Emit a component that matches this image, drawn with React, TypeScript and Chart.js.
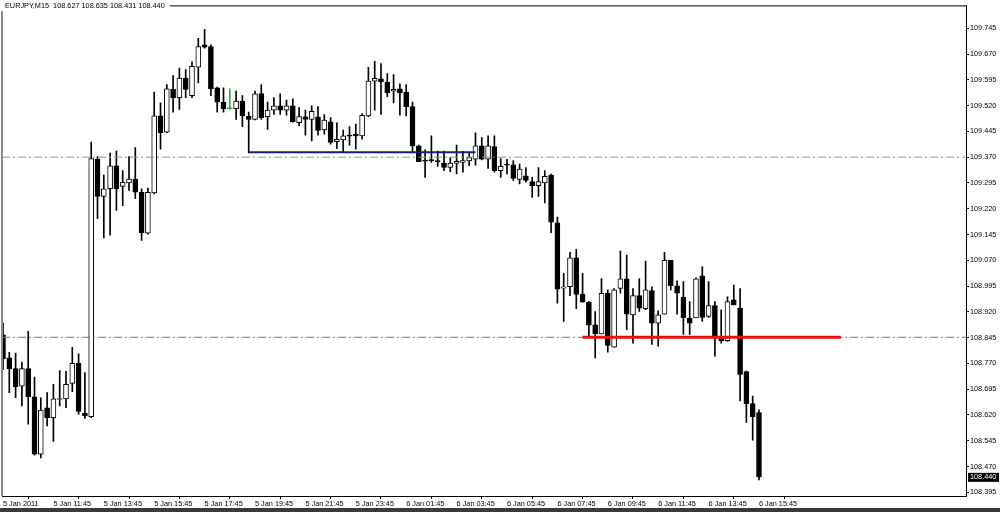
import React, { useEffect, useRef } from "react";
import { Chart, registerables } from "chart.js";

Chart.register(...registerables);

const titleText = "EURJPY,M15  108.627 108.635 108.431 108.440";
const lastPrice = 108.44;

const xTickBars = [0, 8, 16, 24, 32, 40, 48, 56, 64, 72, 80, 88, 96, 104, 112, 120];
const xTickLabels = [
  "5 Jan 2011", "5 Jan 11:45", "5 Jan 13:45", "5 Jan 15:45", "5 Jan 17:45",
  "5 Jan 19:45", "5 Jan 21:45", "5 Jan 23:45", "6 Jan 01:45", "6 Jan 03:45",
  "6 Jan 05:45", "6 Jan 07:45", "6 Jan 09:45", "6 Jan 11:45", "6 Jan 13:45",
  "6 Jan 15:45",
];
const yTickLabels = [
  "108.395", "108.470", "108.545", "108.620", "108.695", "108.770", "108.845",
  "108.920", "108.995", "109.070", "109.145", "109.220", "109.295", "109.370",
  "109.445", "109.520", "109.595", "109.670", "109.745",
];

const opens = [
  108.853, 108.786, 108.755, 108.704, 108.755, 108.673, 108.506, 108.641, 108.612, 108.665,
  108.667, 108.712, 108.770, 108.625, 108.615, 109.364, 109.256, 109.278, 109.345, 109.285,
  109.295, 109.306, 109.268, 109.149, 109.266, 109.490, 109.443, 109.567, 109.543, 109.600,
  109.549, 109.632, 109.697, 109.692, 109.572, 109.530, 109.511, 109.511, 109.533, 109.489,
  109.480, 109.555, 109.488, 109.507, 109.519, 109.507, 109.519, 109.470, 109.487, 109.480,
  109.487, 109.449, 109.473, 109.415, 109.420, 109.434, 109.437, 109.432, 109.490, 109.591,
  109.598, 109.588, 109.562, 109.569, 109.559, 109.517, 109.403, 109.361, 109.362, 109.360,
  109.353, 109.340, 109.352, 109.355, 109.359, 109.364, 109.403, 109.364, 109.401, 109.331,
  109.350, 109.348, 109.305, 109.316, 109.299, 109.287, 109.295, 109.318, 109.179, 108.989,
  108.993, 109.077, 108.971, 108.948, 108.882, 108.856, 108.974, 108.817, 108.988, 109.016,
  108.911, 108.967, 108.929, 108.982, 108.887, 108.913, 109.070, 108.996, 108.962, 108.902,
  108.902, 109.025, 108.907, 108.938, 108.844, 108.836, 108.955, 108.931, 108.746, 108.653,
  108.627,
];
const highs = [
  108.887, 108.802, 108.800, 108.774, 108.863, 108.730, 108.670, 108.685, 108.709, 108.749,
  108.747, 108.817, 108.798, 108.743, 109.414, 109.372, 109.318, 109.382, 109.388, 109.331,
  109.372, 109.398, 109.278, 109.280, 109.559, 109.528, 109.581, 109.607, 109.629, 109.625,
  109.647, 109.716, 109.742, 109.697, 109.574, 109.572, 109.569, 109.562, 109.549, 109.501,
  109.562, 109.581, 109.530, 109.543, 109.554, 109.536, 109.540, 109.514, 109.507, 109.519,
  109.517, 109.494, 109.485, 109.470, 109.449, 109.459, 109.466, 109.497, 109.631, 109.649,
  109.642, 109.613, 109.610, 109.583, 109.581, 109.530, 109.405, 109.391, 109.432, 109.388,
  109.388, 109.369, 109.405, 109.386, 109.384, 109.441, 109.427, 109.432, 109.432, 109.366,
  109.364, 109.360, 109.350, 109.340, 109.311, 109.340, 109.331, 109.321, 109.196, 109.032,
  109.093, 109.102, 109.032, 108.950, 108.921, 109.017, 108.984, 108.988, 109.097, 109.085,
  108.988, 109.017, 109.068, 108.993, 108.923, 109.093, 109.070, 109.010, 109.008, 108.950,
  109.019, 109.051, 109.008, 108.950, 108.926, 108.964, 108.998, 108.988, 108.748, 108.675,
  108.635,
];
const lows = [
  108.752, 108.685, 108.670, 108.646, 108.593, 108.503, 108.495, 108.588, 108.543, 108.646,
  108.641, 108.688, 108.622, 108.610, 108.612, 109.191, 109.135, 109.143, 109.215, 109.229,
  109.273, 109.249, 109.128, 109.146, 109.263, 109.393, 109.441, 109.501, 109.509, 109.543,
  109.543, 109.586, 109.687, 109.549, 109.501, 109.501, 109.509, 109.480, 109.459, 109.382,
  109.478, 109.480, 109.451, 109.494, 109.494, 109.492, 109.472, 109.461, 109.434, 109.417,
  109.434, 109.437, 109.408, 109.395, 109.384, 109.405, 109.393, 109.422, 109.488, 109.507,
  109.494, 109.546, 109.528, 109.492, 109.490, 109.384, 109.357, 109.311, 109.355, 109.343,
  109.331, 109.328, 109.321, 109.326, 109.345, 109.347, 109.362, 109.337, 109.326, 109.311,
  109.321, 109.302, 109.292, 109.297, 109.253, 109.256, 109.237, 109.150, 108.945, 108.892,
  108.967, 108.929, 108.948, 108.849, 108.786, 108.856, 108.803, 108.817, 108.974, 108.868,
  108.829, 108.921, 108.926, 108.825, 108.820, 108.913, 108.984, 108.913, 108.854, 108.854,
  108.902, 108.892, 108.904, 108.791, 108.829, 108.834, 108.940, 108.661, 108.598, 108.547,
  108.431,
];
const closes = [
  108.784, 108.755, 108.702, 108.755, 108.673, 108.506, 108.634, 108.612, 108.667, 108.668,
  108.709, 108.770, 108.630, 108.617, 109.366, 109.256, 109.278, 109.345, 109.278, 109.297,
  109.306, 109.268, 109.150, 109.268, 109.490, 109.441, 109.569, 109.542, 109.600, 109.567,
  109.634, 109.692, 109.690, 109.569, 109.530, 109.511, 109.511, 109.533, 109.490, 109.480,
  109.554, 109.485, 109.507, 109.519, 109.507, 109.519, 109.473, 109.488, 109.480, 109.503,
  109.448, 109.478, 109.413, 109.422, 109.432, 109.431, 109.432, 109.492, 109.591, 109.599,
  109.589, 109.557, 109.567, 109.557, 109.517, 109.403, 109.357, 109.358, 109.360, 109.357,
  109.340, 109.353, 109.358, 109.360, 109.369, 109.403, 109.364, 109.403, 109.331, 109.343,
  109.347, 109.308, 109.335, 109.302, 109.287, 109.299, 109.314, 109.181, 108.986, 108.993,
  109.077, 108.971, 108.948, 108.881, 108.856, 108.974, 108.822, 108.984, 109.016, 108.913,
  108.967, 108.931, 108.984, 108.887, 108.911, 109.070, 108.996, 108.974, 108.902, 108.887,
  109.016, 108.904, 108.938, 108.846, 108.836, 108.950, 108.940, 108.738, 108.653, 108.615,
  108.440,
];

// horizontal lines
const greenLevel = 109.37;
const brownLevel = 108.846;
const blueLineBars = [39, 75];
const blueLinePrice = 109.384;
const redLineBars = [92, 133];
const redLinePrice = 108.846;

const X_MIN = -0.16;
const X_MAX = 152.86;
const Y_MIN = 108.3843;
const Y_MAX = 109.8115;
const FONT = "'Liberation Sans', Arial, sans-serif";
const FONT_SIZE = 7.3;

export default function App() {
  const ref = useRef<HTMLCanvasElement | null>(null);

  useEffect(() => {
    if (!ref.current) return;
    const bull = "#ffffff";
    const bear = "#000000";
    const doji = "#3cae3c";
    const bodyFill = opens.map((o, i) =>
      o === closes[i] ? doji : closes[i] > o ? bull : bear
    );
    const bodyBorder = opens.map((o, i) => (o === closes[i] ? doji : "#000000"));
    const wickColor = opens.map((o, i) => (o === closes[i] ? doji : "#000000"));

    const framePlugin = {
      id: "mtFrame",
      afterDraw(chart: any) {
        const { ctx, chartArea } = chart;
        const ys = chart.scales.y;
        ctx.save();
        ctx.strokeStyle = "#000";
        ctx.lineWidth = 1;
        ctx.beginPath();
        ctx.moveTo(chartArea.left, chartArea.top + 0.5);
        ctx.lineTo(chartArea.right, chartArea.top + 0.5);
        ctx.stroke();
        ctx.strokeStyle = "#8a8a8a";
        ctx.lineWidth = 2;
        ctx.beginPath();
        ctx.moveTo(chartArea.left, chartArea.top);
        ctx.lineTo(chartArea.left, chartArea.bottom);
        ctx.stroke();
        // title
        ctx.font = `${FONT_SIZE}px ${FONT}`;
        ctx.textBaseline = "middle";
        ctx.textAlign = "left";
        const w = ctx.measureText(titleText).width;
        ctx.fillStyle = "#fff";
        ctx.fillRect(0, 0, w + 10, 11);
        ctx.fillStyle = "#000";
        ctx.fillText(titleText, 5, 6);
        // current price box
        const py = ys.getPixelForValue(lastPrice);
        ctx.fillStyle = "#000";
        ctx.fillRect(chartArea.right + 2, py - 4, 31, 9);
        ctx.fillStyle = "#fff";
        ctx.fillText(lastPrice.toFixed(3), chartArea.right + 4, py + 0.5);
        ctx.restore();
      },
    };

    const chart = new Chart(ref.current, {
      type: "bar",
      data: {
        datasets: [
          {
            type: "line",
            order: 0,
            data: [
              { x: redLineBars[0], y: redLinePrice },
              { x: redLineBars[1], y: redLinePrice },
            ],
            borderColor: "#ea1010",
            borderWidth: 3,
            pointRadius: 0,
          } as any,
          {
            type: "line",
            order: 0,
            data: [
              { x: blueLineBars[0], y: blueLinePrice },
              { x: blueLineBars[1], y: blueLinePrice },
            ],
            borderColor: "#1a1a80",
            borderWidth: 2,
            pointRadius: 0,
          } as any,
          {
            type: "line",
            order: 1,
            data: [
              { x: X_MIN, y: greenLevel },
              { x: X_MAX, y: greenLevel },
            ],
            borderColor: "#6aaa6a",
            borderWidth: 1,
            borderDash: [8, 3, 2, 3],
            pointRadius: 0,
          } as any,
          {
            type: "line",
            order: 1,
            data: [
              { x: X_MIN, y: brownLevel },
              { x: X_MAX, y: brownLevel },
            ],
            borderColor: "#a06464",
            borderWidth: 1,
            borderDash: [8, 3, 2, 3],
            pointRadius: 0,
          } as any,
          {
            type: "bar",
            order: 2,
            data: opens.map((o, i) => ({ x: i, y: [o, closes[i]] })),
            backgroundColor: bodyFill,
            borderColor: bodyBorder,
            borderWidth: 1,
            borderSkipped: false,
            barThickness: 5,
            minBarLength: 1,
            grouped: false,
          } as any,
          {
            type: "bar",
            order: 3,
            data: lows.map((l, i) => ({ x: i, y: [l, highs[i]] })),
            backgroundColor: wickColor,
            borderWidth: 0,
            barThickness: 1,
            grouped: false,
          } as any,
        ],
      },
      options: {
        animation: false,
        responsive: false,
        devicePixelRatio: 1,
        layout: { padding: { left: 2, top: 2, right: 0, bottom: 0 } },
        plugins: {
          legend: { display: false },
          tooltip: { enabled: false },
          title: { display: false },
        },
        scales: {
          x: {
            type: "linear",
            min: X_MIN,
            max: X_MAX,
            offset: false,
            afterBuildTicks: (s: any) => {
              s.ticks = xTickBars.map((v) => ({ value: v }));
            },
            afterFit: (s: any) => {
              s.height = 16;
            },
            grid: {
              display: true,
              drawOnChartArea: false,
              drawTicks: true,
              tickLength: 3,
              color: "#000",
            },
            border: { display: true, color: "#000", width: 1 },
            ticks: {
              autoSkip: false,
              maxRotation: 0,
              minRotation: 0,
              align: "start",
              padding: 1,
              color: "#000",
              font: { size: FONT_SIZE, family: FONT },
              callback: (v: any) => {
                const idx = xTickBars.indexOf(Number(v));
                return idx >= 0 ? xTickLabels[idx] : "";
              },
            },
          },
          y: {
            type: "linear",
            position: "right",
            min: Y_MIN,
            max: Y_MAX,
            afterBuildTicks: (s: any) => {
              s.ticks = yTickLabels.map((t) => ({ value: parseFloat(t) }));
            },
            afterFit: (s: any) => {
              s.width = 34;
            },
            grid: {
              display: true,
              drawOnChartArea: false,
              drawTicks: true,
              tickLength: 3,
              color: "#000",
            },
            border: { display: true, color: "#000", width: 1 },
            ticks: {
              padding: 1,
              color: "#000",
              font: { size: FONT_SIZE, family: FONT },
              callback: (v: any) => {
                const n = Number(v);
                const hit = yTickLabels.find((t) => Math.abs(parseFloat(t) - n) < 1e-6);
                return hit ?? "";
              },
            },
          },
        },
      } as any,
      plugins: [framePlugin],
    });
    return () => chart.destroy();
  }, []);

  return (
    <div
      style={{
        position: "fixed",
        left: 0,
        top: 0,
        width: 1000,
        height: 512,
        background: "#fff",
        overflow: "hidden",
      }}
    >
      <canvas ref={ref} width={1000} height={512} style={{ display: "block" }} />
      <div
        style={{
          position: "absolute",
          left: 0,
          top: 508,
          width: 1000,
          height: 4,
          background: "#3a3a3a",
        }}
      />
    </div>
  );
}
